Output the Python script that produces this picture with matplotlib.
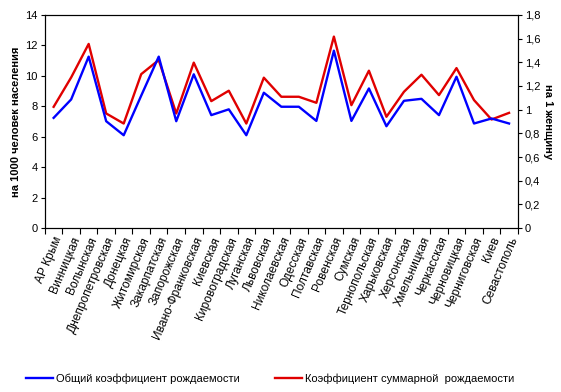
import matplotlib.pyplot as plt
import numpy as np

plt.rcParams['font.family'] = ['Liberation Sans', 'DejaVu Sans']

regions = ['АР Крым', 'Винницкая', 'Волынская', 'Днепропетровская', 'Донецкая',
           'Житомирская', 'Закарпатская', 'Запорожская', 'Ивано-Франковская',
           'Киевская', 'Кировоградская', 'Луганская', 'Львовская', 'Николаевская',
           'Одесская', 'Полтавская', 'Ровенская', 'Сумская', 'Тернопольская',
           'Харьковская', 'Херсонская', 'Хмельницкая', 'Черкасская',
           'Черновицкая', 'Черниговская', 'Киев', 'Севастополь']

# общий коэффициент рождаемости, на 1000 человек
birth_rate = [7.24, 8.45, 11.26, 7.02, 6.1, 8.7, 11.26, 7.02, 10.1, 7.42, 7.8, 6.1,
              8.89, 7.97, 7.97, 7.04, 11.65, 7.04, 9.17, 6.69, 8.36, 8.49, 7.42,
              9.94, 6.87, 7.2, 6.87]
# коэффициент суммарной рождаемости, на 1 женщину
tfr = [1.024, 1.272, 1.555, 0.968, 0.883, 1.30, 1.419, 0.968, 1.397, 1.072, 1.16,
       0.883, 1.27, 1.109, 1.109, 1.058, 1.617, 1.038, 1.329, 0.94, 1.151, 1.295,
       1.123, 1.351, 1.081, 0.917, 0.973]

fig = plt.figure(figsize=(5.61, 3.92), dpi=100)
ax = fig.add_axes([0.080, 0.418, 0.843, 0.544])
ax2 = ax.twinx()

x = np.arange(len(regions))
l1, = ax.plot(x, birth_rate, color='#0000ff', lw=1.7, label='Общий коэффициент рождаемости')
l2, = ax2.plot(x, tfr, color='#e00000', lw=1.7, label='Коэффициент суммарной  рождаемости')
ax.set_zorder(ax2.get_zorder() + 1)
ax.patch.set_visible(False)

ax.set_xlim(-0.5, len(regions) - 0.5)
ax.set_ylim(0, 14)
ax.set_yticks(np.arange(0, 15, 2))
ax2.set_ylim(0, 1.8)
ax2.set_yticks(np.arange(0, 1.81, 0.2))
ax2.set_yticklabels(['0' if v == 0 else ('1' if abs(v - 1) < 1e-9 else f'{v:.1f}'.replace('.', ','))
                     for v in np.arange(0, 1.81, 0.2)])

ax.set_xticks(np.arange(-0.5, len(regions), 1))
ax.set_xticklabels([])
ax.set_xticks(x, minor=True)
ax.set_xticklabels(regions, minor=True, rotation=67, ha='right', rotation_mode='anchor', fontsize=8.6)
ax.tick_params(axis='x', which='minor', length=0, pad=5)
ax.tick_params(axis='x', which='major', length=4, direction='out', width=0.8)
ax.tick_params(axis='y', labelsize=8, length=3, pad=2)
ax2.tick_params(axis='y', labelsize=8, length=3, pad=2)

for a in (ax, ax2):
    for s in a.spines.values():
        s.set_color('black')
        s.set_linewidth(0.8)

ax.set_ylabel('на 1000 человек населения', fontsize=8, fontweight='bold', va='center')
ax.yaxis.set_label_coords(-0.062, 0.5)
ax2.set_ylabel('на 1 женщину', fontsize=8, fontweight='bold', rotation=270, va='center')
ax2.yaxis.set_label_coords(1.063, 0.5)

fig.legend(handles=[l1, l2], loc='center', bbox_to_anchor=(0.482, 0.035), ncol=2,
           frameon=False, fontsize=8, handlelength=2.4, columnspacing=3.2, handletextpad=0.3)

fig.savefig('out.png', dpi=100)
